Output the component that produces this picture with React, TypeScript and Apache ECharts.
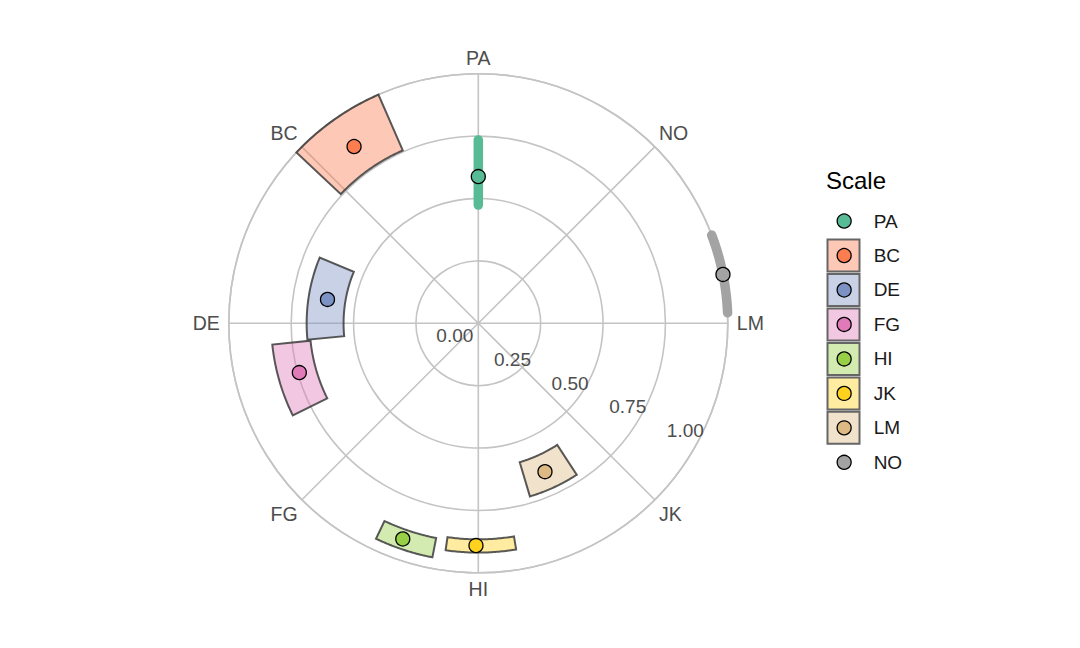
import { useEffect, useRef } from "react";
import * as echarts from "echarts";

// legend order
const scaleNames = ["PA", "BC", "DE", "FG", "HI", "JK", "LM", "NO"];
// angle axis labels, clockwise from the top, one every 45 degrees
const angleLabels = ["PA", "NO", "LM", "JK", "HI", "FG", "DE", "BC"];

// point estimate per scale (angle in degrees clockwise from top, radius 0..1)
const pointAngle = [0, 324.9, 279.0, 254.6, 199.3, 180.6, 155.8, 78.7];
const pointRadius = [0.588, 0.866, 0.612, 0.744, 0.916, 0.891, 0.652, 1.0];

// ranges drawn behind the points
const angleLow = [0, 313.2, 264.5, 243.6, 191.1, 170.5, 147.0, 69.3];
const angleHigh = [0, 336.4, 292.5, 264.1, 205.4, 188.2, 163.4, 87.6];
const radiusLow = [0.474, 0.756, 0.54, 0.676, 0.877, 0.866, 0.581, 1.0];
const radiusHigh = [0.735, 1.0, 0.688, 0.83, 0.956, 0.919, 0.724, 1.0];

const radiusTicks = [0, 0.25, 0.5, 0.75, 1];

const palette = [
  "#57bb95",
  "#fb7d50",
  "#7c91c4",
  "#e07ab9",
  "#97d046",
  "#ffd21f",
  "#ddb984",
  "#a3a3a3"
];

const FONT = "'Liberation Sans', Arial, Helvetica, sans-serif";
const GRID = "#c4c4c4";
const CENTER = [478.3, 323.3];
const RADIUS = 249.5;

function withAlpha(hex: string, a: number) {
  const n = parseInt(hex.slice(1), 16);
  return `rgba(${(n >> 16) & 255}, ${(n >> 8) & 255}, ${n & 255}, ${a})`;
}

export default function App() {
  const rootRef = useRef<HTMLDivElement | null>(null);

  useEffect(() => {
    if (!rootRef.current) return undefined;
    const chart = echarts.init(rootRef.current, undefined, { renderer: "svg" });

    const rangeData = scaleNames.map((_, i) => [
      radiusLow[i],
      radiusHigh[i],
      angleLow[i],
      angleHigh[i]
    ]);

    const boxNames = scaleNames.filter(
      (_, i) => angleLow[i] !== angleHigh[i] && radiusLow[i] !== radiusHigh[i]
    );

    const labelText = { fontFamily: FONT, fontSize: 19.5, color: "#4d4d4d" };

    const option: any = {
      animation: false,
      backgroundColor: "#ffffff",
      textStyle: { fontFamily: FONT },
      title: {
        text: "Scale",
        left: 826,
        top: 168,
        padding: 0,
        textStyle: { fontFamily: FONT, fontSize: 24, fontWeight: "normal", color: "#000000" }
      },
      polar: [
        { center: CENTER, radius: RADIUS },
        { center: CENTER, radius: RADIUS }
      ],
      angleAxis: [
        {
          polarIndex: 0,
          type: "value",
          min: 0,
          max: 360,
          interval: 45,
          startAngle: 90,
          clockwise: true,
          axisLine: { show: true, lineStyle: { color: GRID, width: 1.6 } },
          axisTick: { show: false },
          axisLabel: {
            margin: 6,
            ...labelText,
            formatter: (v: number) => {
              if (v >= 360) return "";
              const k = Math.round(v / 45);
              if (k === 2) return `{right|${angleLabels[k]}}`;
              if (k === 6) return `{left|${angleLabels[k]}}`;
              return angleLabels[k];
            },
            rich: {
              right: { ...labelText, padding: [0, 0, 0, 3] },
              left: { ...labelText, padding: [0, 3, 0, 0] }
            }
          },
          splitLine: { show: true, lineStyle: { color: GRID, width: 1.6 } }
        },
        {
          polarIndex: 1,
          type: "value",
          min: 0,
          max: 360,
          startAngle: -22.5,
          show: false
        }
      ],
      radiusAxis: [
        {
          polarIndex: 0,
          type: "value",
          min: 0,
          max: 1,
          interval: 0.25,
          axisLine: { show: false },
          axisTick: { show: false },
          axisLabel: { show: false },
          splitLine: { show: true, lineStyle: { color: GRID, width: 1.6 } }
        },
        {
          polarIndex: 1,
          type: "value",
          min: 0,
          max: 1,
          interval: 0.25,
          axisLine: { show: false },
          axisTick: { show: false },
          splitLine: { show: false },
          axisLabel: {
            margin: -13,
            align: "right",
            verticalAlign: "middle",
            fontFamily: FONT,
            fontSize: 19,
            color: "#4d4d4d",
            formatter: (v: number) =>
              radiusTicks.some(t => Math.abs(t - v) < 1e-6) ? v.toFixed(2) : ""
          }
        }
      ],
      legend: [
        {
          orient: "vertical",
          left: 826.5,
          top: 238.5,
          padding: 0,
          itemWidth: 32,
          itemHeight: 32,
          itemGap: 0.47,
          selectedMode: false,
          formatter: () => "",
          textStyle: { fontSize: 1, color: "transparent" },
          data: boxNames.map(name => {
            const i = scaleNames.indexOf(name);
            return {
              name,
              icon: "rect",
              itemStyle: {
                color: withAlpha(palette[i], 0.42),
                borderColor: "#666666",
                borderWidth: 2
              }
            };
          })
        },
        {
          orient: "vertical",
          left: 836.5,
          top: 203.8,
          padding: 0,
          itemWidth: 14,
          itemHeight: 14,
          itemGap: 0,
          selectedMode: false,
          textStyle: {
            fontFamily: FONT,
            fontSize: 19,
            color: "#1a1a1a",
            lineHeight: 34.47,
            padding: [0, 0, 0, 17.5]
          },
          data: scaleNames.map((name, i) => ({
            name,
            icon: "circle",
            itemStyle: { color: palette[i], borderColor: "#000000", borderWidth: 1.3 }
          }))
        }
      ],
      series: [
        {
          type: "custom",
          name: "ranges",
          coordinateSystem: "polar",
          polarIndex: 0,
          z: 2,
          silent: true,
          encode: { radius: [0, 1], angle: [2, 3] },
          data: rangeData,
          renderItem: (params: any, api: any) => {
            const i = params.dataIndex;
            const r0 = Number(api.value(0));
            const r1 = Number(api.value(1));
            const a0 = Number(api.value(2));
            const a1 = Number(api.value(3));
            const color = palette[i];
            const steps = 40;
            if (a0 === a1 || r0 === r1) {
              const pts: number[][] = [];
              if (a0 === a1) {
                pts.push(api.coord([r0, a0]), api.coord([r1, a0]));
              } else {
                for (let k = 0; k <= steps; k++) {
                  pts.push(api.coord([r0, a0 + ((a1 - a0) * k) / steps]));
                }
              }
              return {
                type: "polyline",
                shape: { points: pts },
                style: { stroke: color, lineWidth: 9.5, lineCap: "round", fill: null }
              };
            }
            const outer: number[][] = [];
            const inner: number[][] = [];
            for (let k = 0; k <= steps; k++) {
              const a = a0 + ((a1 - a0) * k) / steps;
              outer.push(api.coord([r1, a]));
              inner.push(api.coord([r0, a]));
            }
            return {
              type: "polygon",
              shape: { points: outer.concat(inner.reverse()) },
              style: {
                fill: withAlpha(color, 0.42),
                stroke: "rgba(60, 60, 60, 0.85)",
                lineWidth: 2
              }
            };
          }
        },
        ...scaleNames.map((name, i) => ({
          type: "scatter",
          name,
          coordinateSystem: "polar",
          polarIndex: 0,
          z: 5,
          symbol: "circle",
          symbolSize: 14,
          itemStyle: { color: palette[i], borderColor: "#000000", borderWidth: 1.3, opacity: 1 },
          data: [[pointRadius[i], pointAngle[i]]]
        }))
      ]
    };

    chart.setOption(option);
    return () => chart.dispose();
  }, []);

  return (
    <div
      ref={rootRef}
      style={{ position: "fixed", left: 0, top: 0, width: 1080, height: 648 }}
    />
  );
}
